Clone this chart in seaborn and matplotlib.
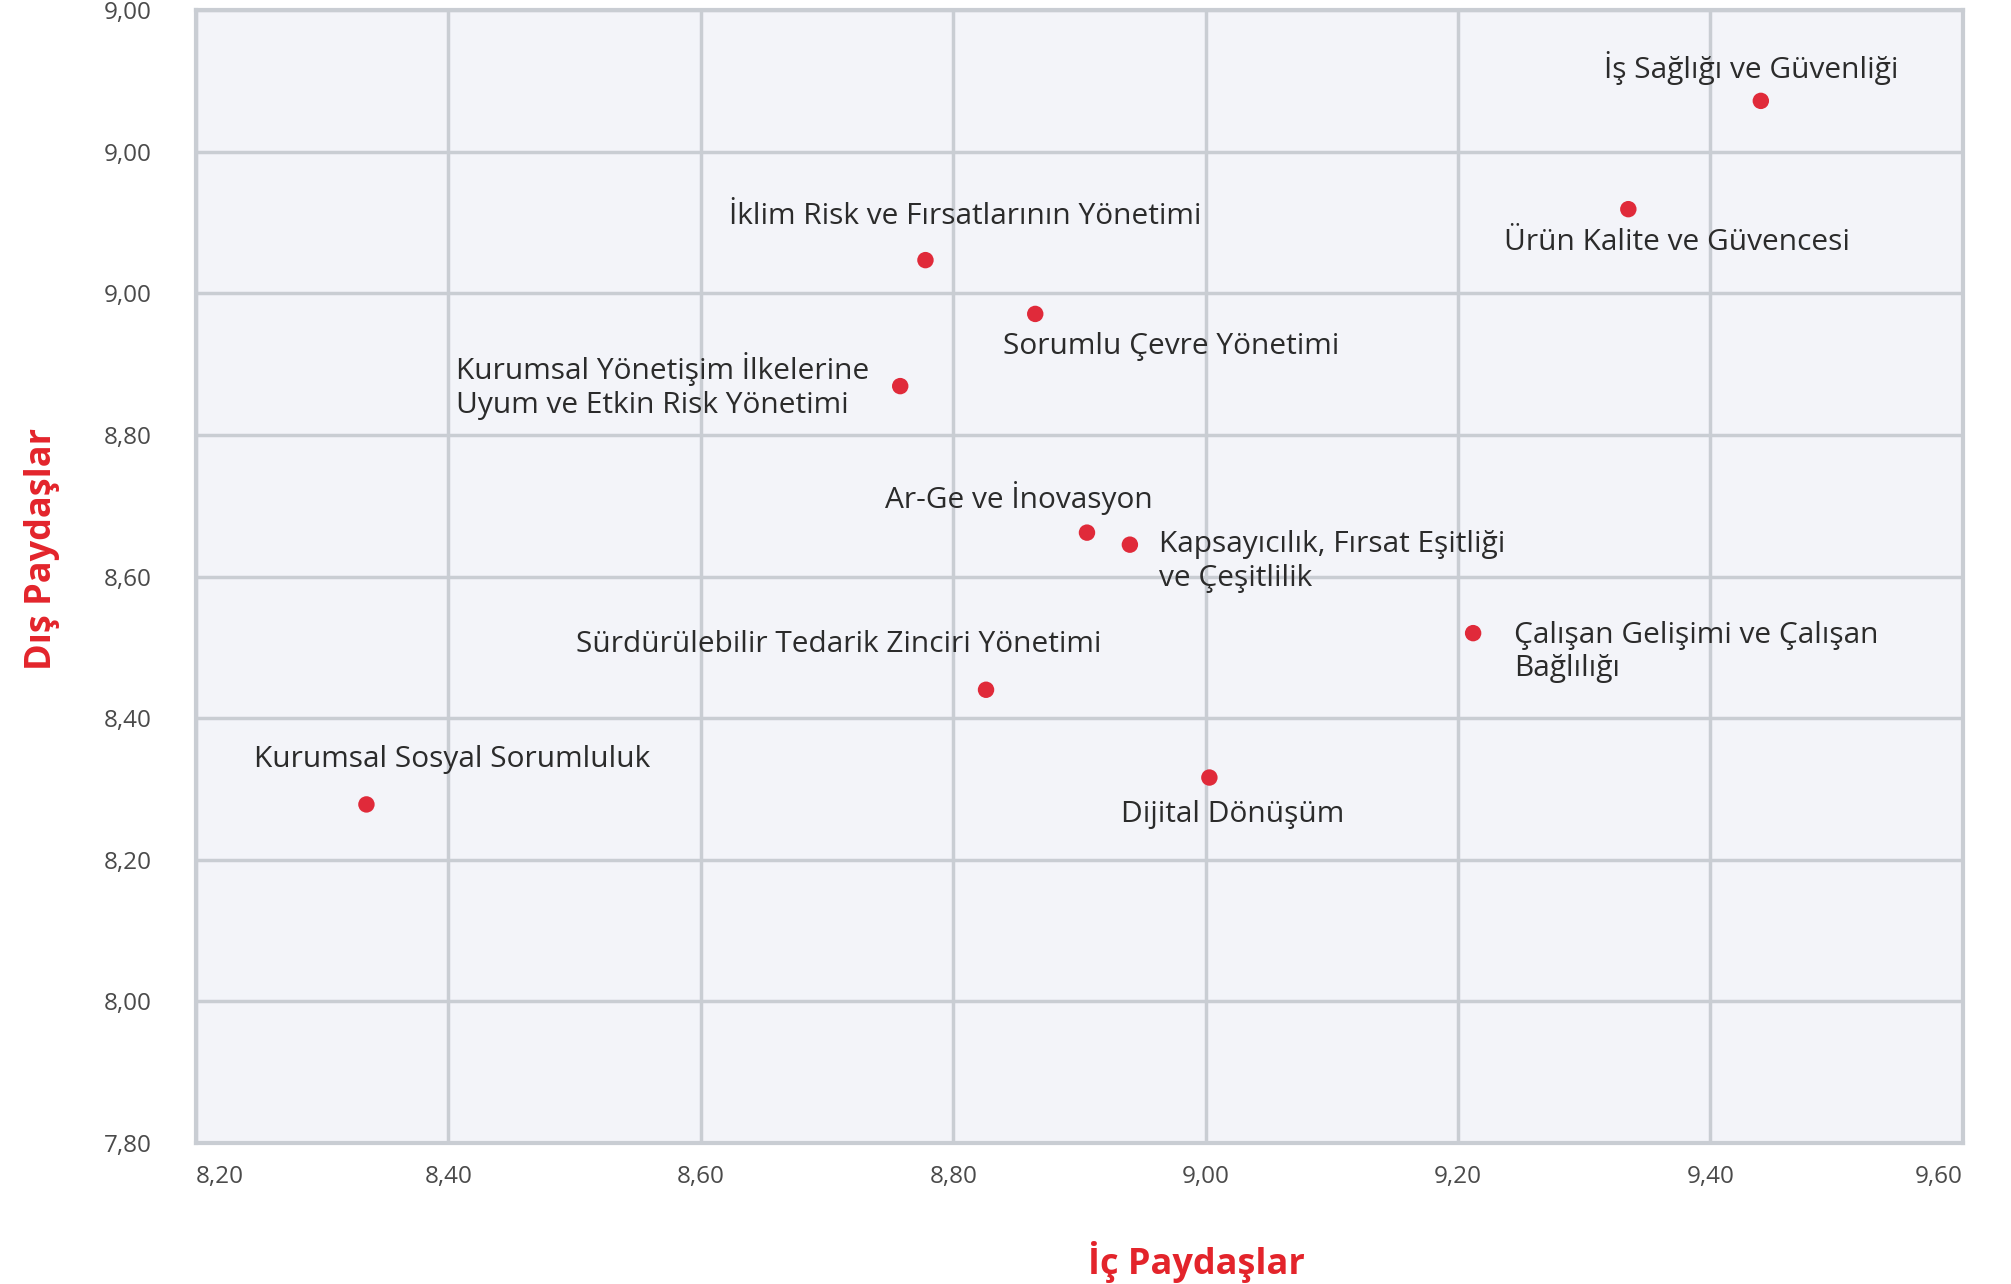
import numpy as np
import pandas as pd
import matplotlib
matplotlib.use("Agg")
import matplotlib.pyplot as plt
import seaborn as sns

# topics (display labels), internal and external stakeholder scores
topics = [
    "İş Sağlığı ve Güvenliği",
    "Ürün Kalite ve Güvencesi",
    "İklim Risk ve Fırsatlarının Yönetimi",
    "Sorumlu Çevre Yönetimi",
    "Kurumsal Yönetişim İlkelerine\nUyum ve Etkin Risk Yönetimi",
    "Ar-Ge ve İnovasyon",
    "Kapsayıcılık, Fırsat Eşitliği\nve Çeşitlilik",
    "Çalışan Gelişimi ve Çalışan\nBağlılığı",
    "Sürdürülebilir Tedarik Zinciri Yönetimi",
    "Dijital Dönüşüm",
    "Kurumsal Sosyal Sorumluluk",
]
ic_paydaslar = [9.44, 9.335, 8.778, 8.865, 8.758, 8.906, 8.94, 9.212, 8.826, 9.003, 8.335]
dis_paydaslar = [9.272, 9.119, 9.047, 8.971, 8.869, 8.662, 8.645, 8.52, 8.44, 8.316, 8.278]

x_ticks = [8.2, 8.4, 8.6, 8.8, 9.0, 9.2, 9.4, 9.6]
x_ticklabels = ["8,20", "8,40", "8,60", "8,80", "9,00", "9,20", "9,40", "9,60"]
y_ticks = [7.8, 8.0, 8.2, 8.4, 8.6, 8.8, 9.0, 9.2, 9.4]
y_ticklabels = ["7,80", "8,00", "8,20", "8,40", "8,60", "8,80", "9,00", "9,00", "9,00"]

# label placement: offset in pixels from the point, alignment
label_style = [
    (-10, 33, "center"),
    (49, -33, "center"),
    (40, 44, "center"),
    (-32, -33, "left"),
    (-31, 0, "right"),
    (-68, 35, "center"),
    (29, -17, "left"),
    (41, -19, "left"),
    (-147, 45, "center"),
    (23, -37, "center"),
    (86, 45, "center"),
]

df = pd.DataFrame({"konu": topics, "ic": ic_paydaslar, "dis": dis_paydaslar})

red = "#e3242b"
grid_col = "#c9cdd3"
sns.set_style("whitegrid", {"axes.facecolor": "#f3f4f9", "grid.color": grid_col,
                            "axes.edgecolor": grid_col})
plt.rcParams["font.family"] = ["Open Sans", "DejaVu Sans"]

fig = plt.figure(figsize=(20.11, 12.84), dpi=100)
ax = fig.add_axes([0.0975, 0.110, 0.8785, 0.882])

sns.scatterplot(data=df, x="ic", y="dis", ax=ax, color="#e02a3a", s=140,
                edgecolor="none", zorder=3)

for i, row in df.iterrows():
    dx, dy, ha = label_style[i]
    ax.annotate(row["konu"], (row["ic"], row["dis"]), xytext=(dx, dy),
                textcoords="offset pixels", ha=ha, va="center",
                multialignment="left", fontsize=21.5, color="#2b2b2b",
                linespacing=1.2)

ax.set_xlim(8.2, 9.6)
ax.set_ylim(7.8, 9.4)
ax.set_xticks(x_ticks)
ax.set_xticklabels(x_ticklabels)
ax.set_yticks(y_ticks)
ax.set_yticklabels(y_ticklabels)
ax.grid(True, color=grid_col, linewidth=2.5)
for sp in ax.spines.values():
    sp.set_color(grid_col)
    sp.set_linewidth(3)
ax.tick_params(axis="x", length=5, width=2.5, color=grid_col, pad=11,
               labelsize=17.5, labelcolor="#4a4a4a")
ax.tick_params(axis="y", length=0, pad=32, labelsize=17.5, labelcolor="#4a4a4a")
xt = ax.get_xticklabels()
xt[0].set_ha("left")
xt[-1].set_ha("right")

ax.set_xlabel("İç Paydaşlar", fontsize=26, fontweight="bold", color=red)
ax.set_ylabel("Dış Paydaşlar", fontsize=26, fontweight="bold", color=red)
ax.xaxis.label.set_va("center")
ax.xaxis.set_label_coords(0.566, -0.105)
ax.yaxis.set_label_coords(-0.077, 0.524)

fig.savefig("out.png", dpi=100)
